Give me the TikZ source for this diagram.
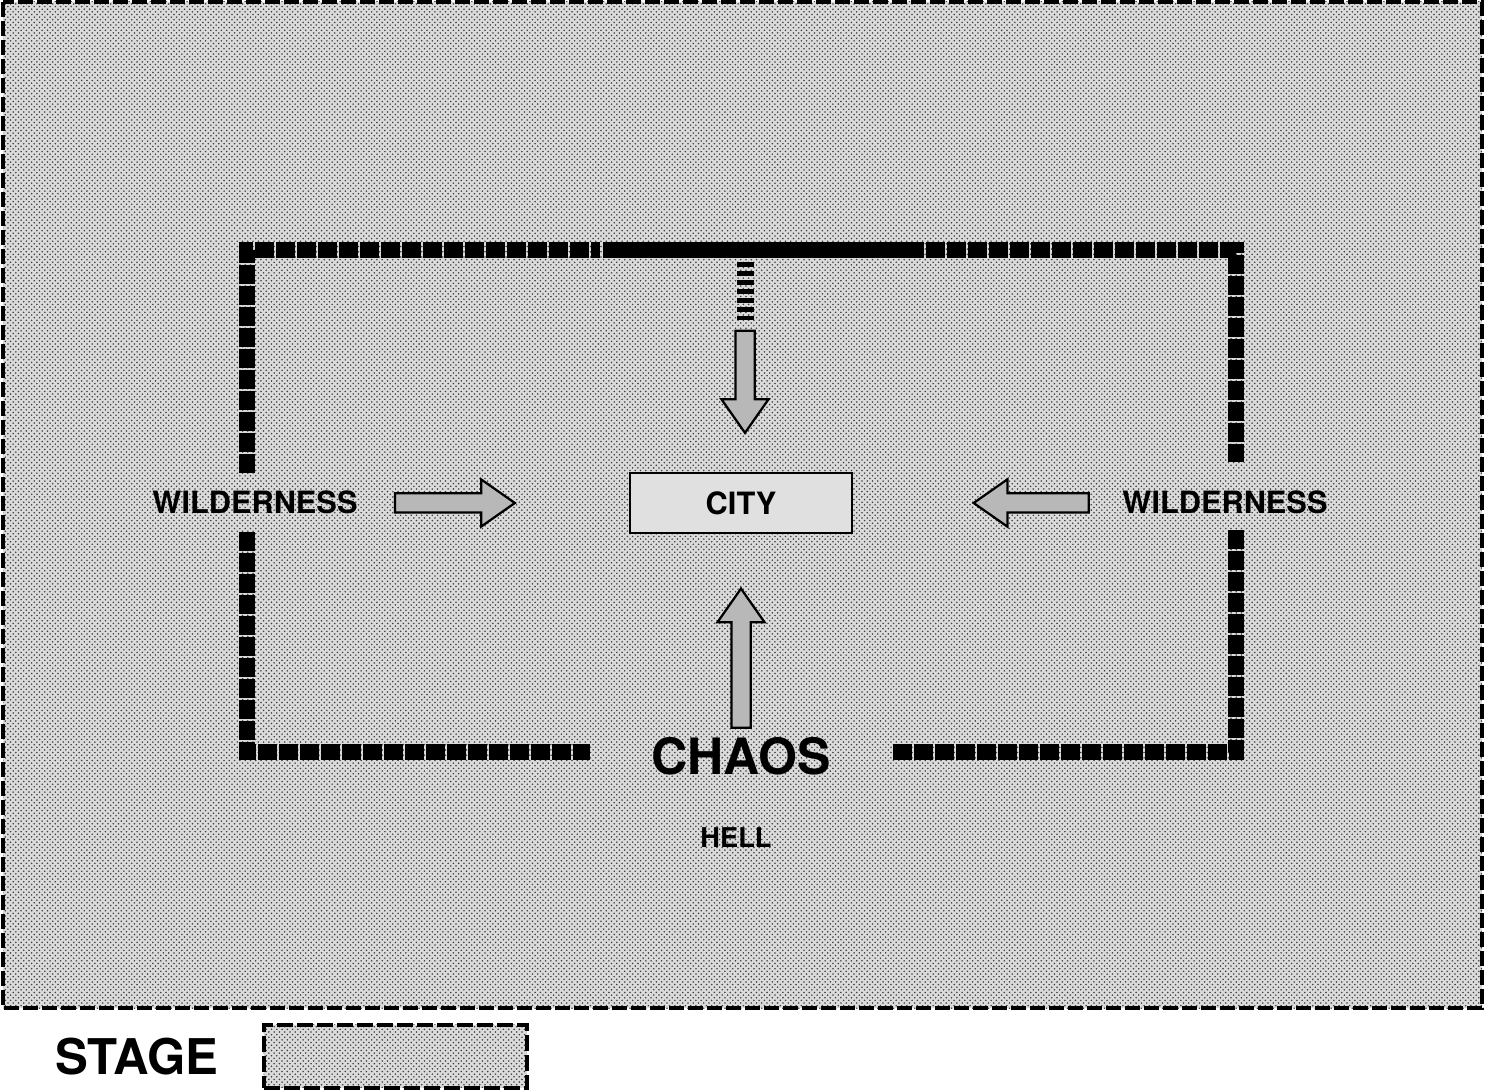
\documentclass[tikz,border=0pt]{standalone}
\usepackage{fontspec}
\setmainfont{TeX Gyre Heros}
\usetikzlibrary{shapes.arrows,patterns}

\tikzset{
  stipple/.style={preaction={fill=black!14}, pattern=crosshatch dots, pattern color=black!75},
  stageline/.style={line width=0.7mm, dash pattern=on 3mm off 0.8mm},
  wall/.style={line width=3.2mm, dash pattern=on 3.8mm off 0.4mm},
  fatarrow/.style={single arrow, draw, line width=0.45mm, fill=black!28, inner xsep=0pt,
    inner ysep=1.7mm, single arrow head extend=2.8mm, single arrow tip angle=70},
  label/.style={font=\bfseries\fontsize{17.5}{20}\selectfont}
}

\begin{document}
\begin{tikzpicture}[x=0.2mm, y=-0.2mm]
  \useasboundingbox (0,0) rectangle (1485,1090);
  % the stage
  \fill[stipple] (3,2) rectangle (1482,1008);
  \draw[stageline] (3,2) rectangle (1482,1008);

  % the walls
  \draw[wall] (247,473) -- (247,250) -- (600,250);
  \draw[line width=3.2mm] (603,250) -- (905,250);
  \draw[wall] (905,250) -- (1236,250) -- (1236,462);
  \draw[wall] (1236,530) -- (1236,752) -- (892,752);
  \draw[wall] (247,532) -- (247,752) -- (590,752);
  \draw[line width=3.4mm, dash pattern=on 1mm off 0.8mm] (745,262) -- (745,320);

  % labels
  \node[draw, line width=0.4mm, fill=black!12, minimum width=44.4mm, minimum height=12mm, label] (city) at (741,503) {CITY};
  \node[label] (wildW) at (255,502) {WILDERNESS};
  \node[label] (wildE) at (1225,502) {WILDERNESS};
  \node[font=\bfseries\fontsize{28.5}{32}\selectfont] (chaos) at (741,756) {CHAOS};
  \node[font=\bfseries\fontsize{15.5}{18}\selectfont] (hell) at (736,838) {HELL};

  % arrows
  \node[fatarrow, minimum height=24mm] (arrW) at (448,503) {};
  \node[fatarrow, minimum height=23mm, rotate=180] (arrE) at (1038,503) {};
  \node[fatarrow, minimum height=20.4mm, rotate=-90] (arrN) at (745,375) {};
  \node[fatarrow, minimum height=27.8mm, rotate=90] (arrS) at (741,665) {};

  % key
  \node[font=\bfseries\fontsize{28}{32}\selectfont] (stage) at (137,1057) {STAGE};
  \node[stipple, line width=0.8mm, draw, dash pattern=on 3.2mm off 0.8mm, minimum width=52.6mm, minimum height=12.6mm] (key) at (395,1056) {};
\end{tikzpicture}
\end{document}
